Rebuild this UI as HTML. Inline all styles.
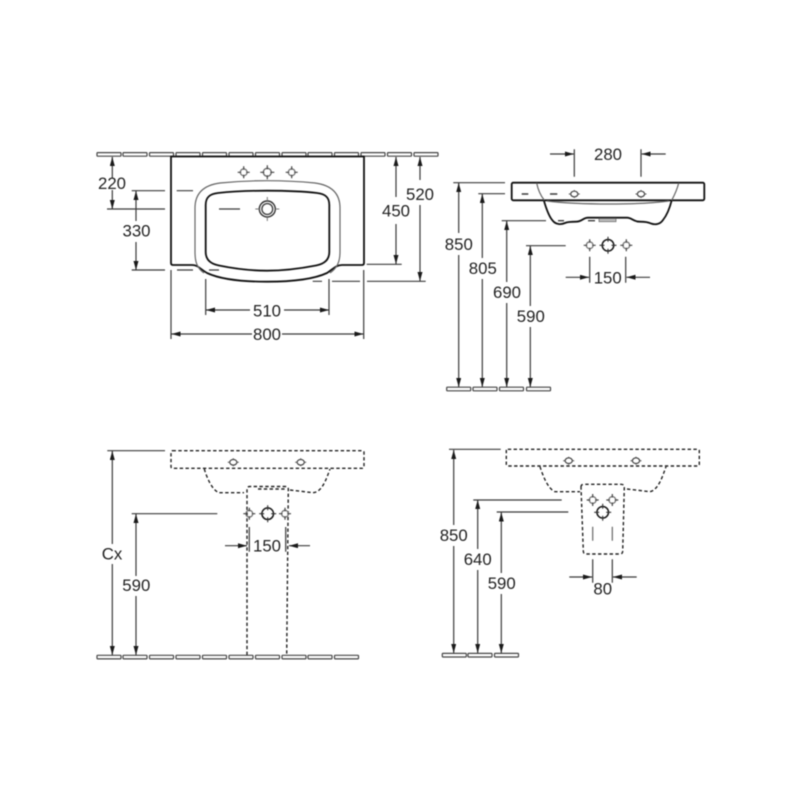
<!DOCTYPE html>
<html><head><meta charset="utf-8">
<style>
html,body{margin:0;padding:0;background:#fff;width:800px;height:800px;overflow:hidden}
svg{display:block;filter:blur(0.45px)}
text{font-family:"Liberation Sans",sans-serif;font-size:16.8px;fill:#222;text-anchor:middle}
.d{stroke:#3a3a3a;stroke-width:1.2;fill:none}
.o{stroke:#111;stroke-width:1.8;fill:none;stroke-linejoin:round}
.g{stroke:#666;stroke-width:1.2;fill:none}
.h{stroke:#222;stroke-width:1.4;fill:none;stroke-dasharray:3.4 2.4}
.t{fill:#fff;stroke:#444;stroke-width:1.2}
</style></head><body>
<svg width="800" height="800" viewBox="0 0 800 800" xmlns="http://www.w3.org/2000/svg">
<defs>
<marker id="a" markerUnits="userSpaceOnUse" markerWidth="10" markerHeight="6" refX="9" refY="2.5" orient="auto-start-reverse"><path d="M0,0L9,2.5L0,5z" fill="#1a1a1a"/></marker>
<rect id="tile" x="0" y="0" width="24" height="3.6" rx=".6" class="t"/>
<g id="s"><circle r="3.4" fill="none" stroke="#777" stroke-width="1.3"/><path d="M-6,0H-2.5M2.5,0H6M0,-6V-2.5M0,2.5V6" stroke="#444" stroke-width="1.2"/></g>
<g id="l"><circle r="5.8" fill="none" stroke="#1a1a1a" stroke-width="1.5"/><path d="M-8.5,0H-3.5M3.5,0H8.5M0,-8.5V-3.5M0,3.5V8.5" stroke="#333" stroke-width="1.1"/></g>
<g id="hole"><ellipse rx="3.6" ry="2.8" fill="none" stroke="#444" stroke-width="1.2"/><path d="M-5.5,0H-3.5M3.5,0H5.5M0,-4V-2.5M0,2.5V4" stroke="#555"/></g>
</defs>

<!-- top wall -->
<g transform="translate(0,152.6)">
<use href="#tile" x="97"/><use href="#tile" x="123"/><use href="#tile" x="149.5"/><use href="#tile" x="176"/><use href="#tile" x="202.5"/><use href="#tile" x="229"/><use href="#tile" x="255.5"/><use href="#tile" x="282"/><use href="#tile" x="308"/><use href="#tile" x="334.5"/><use href="#tile" x="361"/><use href="#tile" x="387.5"/><use href="#tile" x="414"/>
</g>

<!-- top view -->
<path class="o" d="M171,156.5V263Q171,265 173,265H192C198,265 200,269 207,273C222,280 245,281.7 267,281.7C290,281.7 312,280 327,273C333,269 336,265 342,265H362Q364,265 364,263V156.5Z"/>
<path class="g" d="M204,273C197,268 195,262 195,252V208C195,192 205,185 220,183C240,181 254,180.7 267,180.7C280,180.7 295,181 315,183C330,185 340,192 340,208V252C340,262 337,268 330,273"/>
<path class="o" stroke-width="2" d="M205.7,205C205.7,197 210,194 218,193C235,191 252,190.7 267,190.7C282,190.7 300,191 317,193C325,194 329.3,197 329.3,205V252C329.3,260 324,264 316,265.5C298,269 282,270.7 267,270.7C252,270.7 236,269 219,265.5C211,264 205.7,260 205.7,252Z"/>
<use href="#s" x="243.7" y="172.3"/><use href="#s" x="291.7" y="172.3"/>
<g transform="translate(267.3,172.3)"><circle r="4" fill="none" stroke="#666" stroke-width="1.3"/><path d="M-7,0H-3M3,0H7M0,-7V-3M0,3V7" stroke="#444" stroke-width="1.2"/></g>
<g transform="translate(267.3,209)"><circle r="8" fill="none" stroke="#333" stroke-width="1.4"/><circle r="5.4" fill="none" stroke="#444" stroke-width="1.4"/><path d="M-12,0H-8M8,0H12M0,-12V-8M0,8V12" stroke="#777"/></g>

<g class="d">
<path d="M107,209H165M219,209H240"/>
<path d="M131.7,190.7H165M176.7,190.7H193"/>
<path d="M131.7,270H165M177,270H193M209,270H219"/>
<path d="M366.7,264.3H401.7"/>
<path d="M312.7,281.3H322M332,281.3H360M367,281.3H425.7"/>
<path d="M205.7,279V315M329,279V315M171,270V339M363.7,270V339"/>
<path d="M112.3,157V178" marker-start="url(#a)"/>
<path d="M112.3,190V209" marker-end="url(#a)"/>
<path d="M136,191V221" marker-start="url(#a)"/>
<path d="M136,242V270" marker-end="url(#a)"/>
<path d="M396,157V197" marker-start="url(#a)"/>
<path d="M396,224V264" marker-end="url(#a)"/>
<path d="M420,157V180" marker-start="url(#a)"/>
<path d="M420,205V281" marker-end="url(#a)"/>
<path d="M250,310H206" marker-end="url(#a)"/>
<path d="M284,310H329" marker-end="url(#a)"/>
<path d="M252,334H171.5" marker-end="url(#a)"/>
<path d="M282,334H363.5" marker-end="url(#a)"/>
</g>
<text x="112" y="189">220</text>
<text x="136.5" y="236.5">330</text>
<text x="420" y="200">520</text>
<text x="396" y="216.5">450</text>
<text x="267" y="316.5">510</text>
<text x="267" y="340">800</text>

<!-- side view -->
<rect x="511.7" y="182.7" width="192.6" height="17.6" rx="1.5" class="o"/>
<path class="o" d="M543.8,200.3C546,208 549,217 553,221C556,224.5 561,224.8 565,223C568,221.7 571,221.7 576,221.7C582,221.7 583,217.7 588,217.7H627C632,217.7 633,221.7 640,221.7C645,221.7 648,222 651,223.5C655,225 660,224.5 663,220C667,215 670,207 671.7,200.3"/>
<path class="g" d="M536.7,183C538,190 541,196 544.3,200.3M678.7,183C677,190 674,196 671.7,200.3M547,201C580,205 640,205 669,201"/>
<rect x="599" y="218.5" width="17" height="3.2" fill="#bbb" stroke="#666" stroke-width=".7"/>
<g class="d">
<path d="M521.7,194H528.3M550,194H557.3M558,220.7H564M588,220.7H595" stroke-width="1.4"/>
<path d="M574.3,149.3V176.7M641,149.3V176.7"/>
<path d="M550,154H573.8" marker-end="url(#a)"/>
<path d="M665.7,154H641.7" marker-end="url(#a)"/>
<path d="M453.3,182.7H505M478.3,193.7H505M501.7,220.7H546M526,245.7H565.7"/>
<path d="M458.7,183V233" marker-start="url(#a)"/>
<path d="M458.7,255V387" marker-end="url(#a)"/>
<path d="M482.3,194V258" marker-start="url(#a)"/>
<path d="M482.3,279V387" marker-end="url(#a)"/>
<path d="M506.7,221V282" marker-start="url(#a)"/>
<path d="M506.7,303V387" marker-end="url(#a)"/>
<path d="M530.3,246V306" marker-start="url(#a)"/>
<path d="M530.3,327V387" marker-end="url(#a)"/>
<path d="M589.7,256.7V282.7M625.7,256.7V282.7"/>
<path d="M565.7,277.3H589" marker-end="url(#a)"/>
<path d="M650,277.3H626.5" marker-end="url(#a)"/>
</g>
<use href="#hole" x="574.3" y="194"/><use href="#hole" x="641" y="194"/>
<use href="#s" x="589.7" y="245.3"/><use href="#l" x="608" y="245.3"/><use href="#s" x="626.3" y="245.3"/>
<text x="608" y="160">280</text>
<text x="458.8" y="250">850</text>
<text x="482.8" y="274">805</text>
<text x="507" y="298">690</text>
<text x="530.8" y="322">590</text>
<text x="607.7" y="283.3">150</text>
<g transform="translate(0,387.2)"><use href="#tile" x="446.7"/><use href="#tile" x="473"/><use href="#tile" x="499.5"/><use href="#tile" x="526.5"/></g>

<!-- front view -->
<rect x="171" y="450.7" width="193" height="17.6" rx="1.5" class="h"/>
<use href="#hole" x="233.3" y="462.3"/><use href="#hole" x="300.7" y="462.3"/>
<path class="h" d="M204.3,469C207,478 212,490 219,492.7H244M290,490L313,492.7C322,492 326,480 330,469"/>
<path class="h" d="M247,655V489Q247,486.5 250,486.5H285Q288.3,486.5 288.3,489L286.7,655"/>
<path class="h" d="M258,489H286" stroke-dasharray="4 4"/>
<use href="#s" x="249.3" y="513.7"/><use href="#l" x="267.7" y="513.7"/><use href="#s" x="285" y="513.7"/>
<g class="d">
<path d="M107.3,450.7H165M131.7,513.7H217.3"/>
<path d="M112.3,451V544" marker-start="url(#a)"/>
<path d="M112.3,564V655" marker-end="url(#a)"/>
<path d="M136,514V576" marker-start="url(#a)"/>
<path d="M136,596V655" marker-end="url(#a)"/>
<path d="M249.3,527V551.7M285.7,527V551.7"/>
<path d="M225,545.7H247" marker-end="url(#a)"/>
<path d="M310,545.7H289" marker-end="url(#a)"/>
</g>
<text x="112" y="559.3">Cx</text>
<text x="136.3" y="591">590</text>
<text x="267" y="551.3">150</text>
<g transform="translate(0,655.3)">
<use href="#tile" x="97"/><use href="#tile" x="123"/><use href="#tile" x="149.5"/><use href="#tile" x="176"/><use href="#tile" x="202.5"/><use href="#tile" x="229"/><use href="#tile" x="255.5"/><use href="#tile" x="282"/><use href="#tile" x="308"/><use href="#tile" x="334.5"/>
</g>

<!-- bracket view -->
<rect x="506.3" y="449.3" width="193" height="16.7" rx="1.5" class="h"/>
<use href="#hole" x="568.7" y="460.7"/><use href="#hole" x="636" y="460.7"/>
<path class="h" d="M540,466.7C543,476 548,489 555,491.7H580M627,489L650,491.7C658,490 662,478 666,466.7"/>
<path class="h" d="M581,487Q581,484.3 584,484.3H621Q624.3,484.3 624.3,487L622.7,551Q622.7,554 620,554H586Q583.3,554 583.3,551Z"/>
<use href="#s" x="592.7" y="500"/><use href="#s" x="612.3" y="500"/><use href="#l" x="602.7" y="512.3"/>
<g class="d">
<path d="M449,449.3H500.7M473.3,500H561.7M496.7,512H568.3"/>
<path d="M592.7,526.7V540.7M612.3,526.7V540.7" stroke="#666"/>
<path d="M453.7,450V525" marker-start="url(#a)"/>
<path d="M453.7,546V653" marker-end="url(#a)"/>
<path d="M477.7,500V549" marker-start="url(#a)"/>
<path d="M477.7,570V653" marker-end="url(#a)"/>
<path d="M501.3,512.5V573" marker-start="url(#a)"/>
<path d="M501.3,594V653" marker-end="url(#a)"/>
<path d="M592.7,559.3V582.7M612.3,559.3V582.7"/>
<path d="M569.3,577H592" marker-end="url(#a)"/>
<path d="M636.7,577H613" marker-end="url(#a)"/>
</g>
<text x="453.7" y="541">850</text>
<text x="477.7" y="565">640</text>
<text x="501.7" y="589">590</text>
<text x="602.7" y="594.3">80</text>
<g transform="translate(0,653.4)"><use href="#tile" x="442.3"/><use href="#tile" x="468"/><use href="#tile" x="494.5"/></g>
</svg>
</body></html>
